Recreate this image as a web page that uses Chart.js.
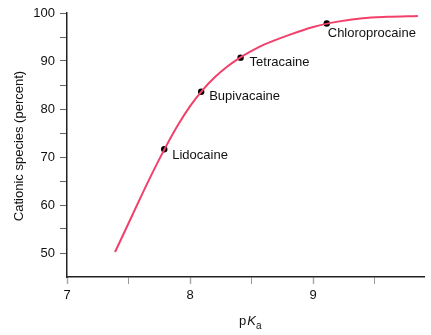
<!DOCTYPE html>
<html>
<head>
<meta charset="utf-8">
<script src="https://cdn.jsdelivr.net/npm/chart.js@4"></script>
<style>
  html, body { margin: 0; padding: 0; background: #fff; }
  #wrap { width: 431px; height: 335px; }
</style>
</head>
<body>
<div id="wrap"><canvas id="chart" width="431" height="335"></canvas></div>
<script>
// curve
const curvePka = [7.39, 7.5, 7.6, 7.7, 7.8, 7.9, 8.0, 8.1, 8.2, 8.3, 8.4, 8.5, 8.6, 8.8, 9.0, 9.2, 9.4, 9.6, 9.85];
const curvePct = [50.2, 56.2, 61.7, 67.0, 72.0, 76.6, 80.6, 83.9, 86.6, 88.8, 90.6, 92.1, 93.4, 95.4, 97.1, 98.2, 98.9, 99.2, 99.4];

// drugs
const drugNames = ['Lidocaine', 'Bupivacaine', 'Tetracaine', 'Chloroprocaine'];
const drugPka = [7.79, 8.09, 8.41, 9.11];
const drugPct = [71.6, 83.6, 90.7, 97.8];

const xTitle = ['p', 'K', 'a'];
const yTitle = 'Cationic species (percent)';

const FONT = 'Liberation Sans, Arial, Helvetica, sans-serif';

// label offsets from each point (px): [dx, dy]
const labelOffsets = [[8, 6], [8, 5], [9, 5], [1, 10]];

const labelPlugin = {
  id: 'labels',
  afterDatasetsDraw(chart) {
    const ctx = chart.ctx;
    const xs = chart.scales.x, ys = chart.scales.y;
    ctx.save();
    ctx.fillStyle = '#111';
    ctx.font = '13px ' + FONT;
    ctx.textBaseline = 'middle';
    ctx.textAlign = 'left';
    drugNames.forEach((name, i) => {
      const px = xs.getPixelForValue(drugPka[i]);
      const py = ys.getPixelForValue(drugPct[i]);
      ctx.fillText(name, px + labelOffsets[i][0], py + labelOffsets[i][1]);
    });

    // x title: p K(italic) a(subscript)
    let x = 239, base = 325;
    ctx.textBaseline = 'alphabetic';
    ctx.font = '13px ' + FONT;
    ctx.fillText(xTitle[0], x, base);
    x += ctx.measureText(xTitle[0]).width + 1;
    ctx.font = 'italic 13px ' + FONT;
    ctx.fillText(xTitle[1], x, base);
    x += ctx.measureText(xTitle[1]).width;
    ctx.font = '10px ' + FONT;
    ctx.fillText(xTitle[2], x, base + 4);

    // y title
    ctx.translate(19, 146);
    ctx.rotate(-Math.PI / 2);
    ctx.font = '13px ' + FONT;
    ctx.textAlign = 'center';
    ctx.textBaseline = 'middle';
    ctx.fillText(yTitle, 0, 0);
    ctx.restore();
  }
};

const curve = curvePka.map((v, i) => ({ x: v, y: curvePct[i] }));
const drugs = drugPka.map((v, i) => ({ x: v, y: drugPct[i] }));

const ctx = document.getElementById('chart').getContext('2d');
new Chart(ctx, {
  type: 'scatter',
  data: {
    datasets: [
      {
        data: curve,
        showLine: true,
        borderColor: '#f2406a',
        borderWidth: 2,
        pointRadius: 0,
        cubicInterpolationMode: 'monotone'
      },
      {
        data: drugs,
        pointRadius: 3.2,
        pointBackgroundColor: '#000',
        pointBorderColor: '#000',
        pointBorderWidth: 0
      }
    ]
  },
  options: {
    responsive: false,
    animation: false,
    devicePixelRatio: 1,
    layout: { padding: { top: 13, right: 7, left: 0, bottom: 0 } },
    plugins: { legend: { display: false }, tooltip: { enabled: false } },
    scales: {
      x: {
        type: 'linear',
        min: 7,
        max: 9.9,
        afterFit(s) { s.height = 58; },
        border: { color: '#222', width: 1.5 },
        grid: {
          drawOnChartArea: false,
          tickLength: 7,
          tickColor: c => (Number.isInteger(c.tick.value) ? '#aaa' : '#999'),
          tickWidth: c => (Number.isInteger(c.tick.value) ? 1.5 : 1)
        },
        ticks: {
          stepSize: 0.5,
          includeBounds: false,
          color: '#111',
          font: { family: FONT, size: 13 },
          padding: 4,
          callback: v => (Number.isInteger(v) ? v : '')
        }
      },
      y: {
        min: 45,
        max: 100,
        afterFit(s) { s.width = 67; },
        afterBuildTicks(s) { s.ticks = s.ticks.filter(t => t.value >= 50); },
        border: { color: '#222', width: 1.5 },
        grid: {
          drawOnChartArea: false,
          tickLength: 7,
          tickColor: '#666',
          tickWidth: 1
        },
        ticks: {
          stepSize: 5,
          includeBounds: false,
          color: '#111',
          font: { family: FONT, size: 13 },
          padding: 5,
          callback: v => (v % 10 === 0 ? v : '')
        }
      }
    }
  },
  plugins: [labelPlugin]
});
</script>
</body>
</html>
